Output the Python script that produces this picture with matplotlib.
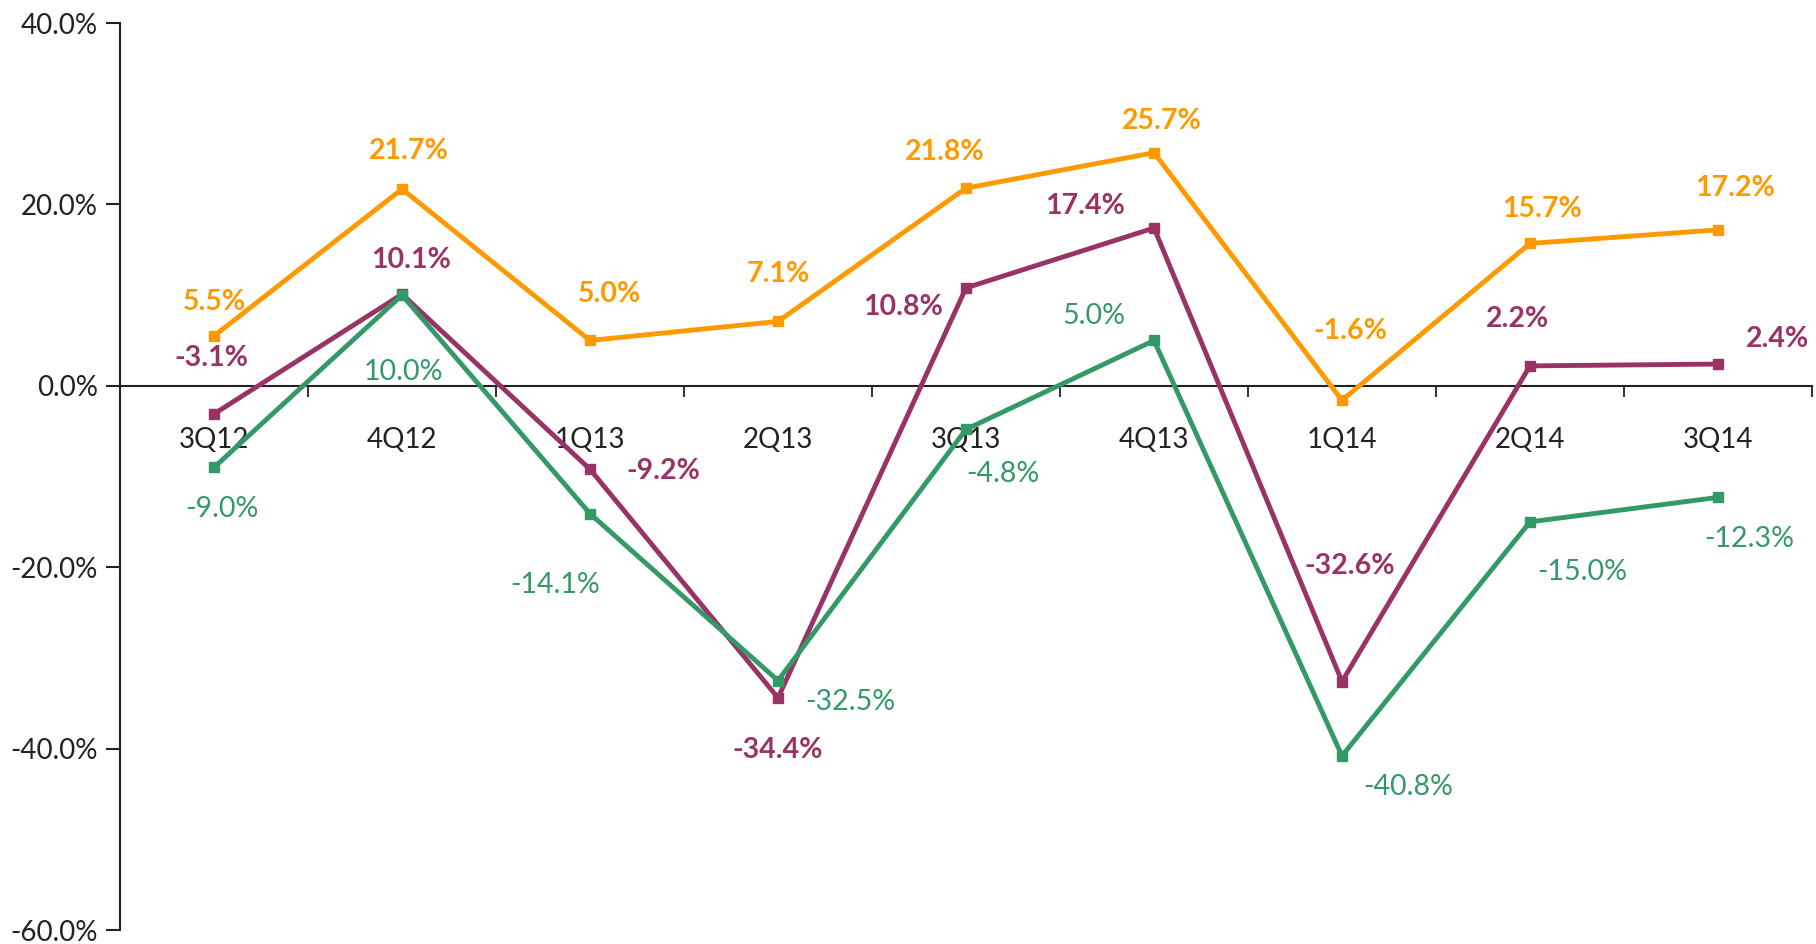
import matplotlib
matplotlib.use('Agg')
import matplotlib.pyplot as plt
from matplotlib.ticker import FuncFormatter, FixedLocator

plt.rcParams['font.family'] = ['Lato', 'DejaVu Sans']

# data
quarters = ['3Q12', '4Q12', '1Q13', '2Q13', '3Q13', '4Q13', '1Q14', '2Q14', '3Q14']
orange_vals = [5.5, 21.7, 5.0, 7.1, 21.8, 25.7, -1.6, 15.7, 17.2]
purple_vals = [-3.1, 10.1, -9.2, -34.4, 10.8, 17.4, -32.6, 2.2, 2.4]
green_vals = [-9.0, 10.0, -14.1, -32.5, -4.8, 5.0, -40.8, -15.0, -12.3]

# label offsets in pixels (layout only)
orange_off = [(0, 34), (7, 38), (19, 46), (0, 47), (-21, 36), (8, 32), (8, 69), (12, 34), (17, 42)]
purple_off = [(-3, 56), (9, 34), (73, -2), (0, -52), (-63, -19), (-69, 22), (8, 116), (-13, 47), (59, 25)]
green_off = [(8, -42), (1, -77), (-35, -71), (72, -21), (37, -45), (-60, 24), (66, -31), (52, -50), (31, -42)]

fig = plt.figure(figsize=(18.16, 9.44), dpi=100)
ax = fig.add_axes([0.0661, 0.0148, 0.9317, 0.9608])

x = list(range(len(quarters)))
series = [
    (orange_vals, '#FF9900', orange_off, 'bold'),
    (purple_vals, '#993366', purple_off, 'bold'),
    (green_vals, '#339966', green_off, 'normal'),
]

for vals, col, offs, wt in series:
    ax.plot(x, vals, color=col, lw=3.5, marker='s', ms=7.5, zorder=3)
    for xi, v, off in zip(x, vals, offs):
        ax.annotate('%.1f%%' % v, (xi, v), xytext=off, textcoords='offset pixels',
                    ha='center', va='center', color=col, fontsize=20.5, fontweight=wt, zorder=4)

ax.set_xlim(-0.5, len(quarters) - 0.5)
ax.set_ylim(-60, 40)
ax.set_yticks([-60, -40, -20, 0, 20, 40])
ax.yaxis.set_major_formatter(FuncFormatter(lambda v, p: '%.1f%%' % v))

ax.spines['top'].set_visible(False)
ax.spines['right'].set_visible(False)
ax.spines['bottom'].set_position(('data', 0))
ax.spines['left'].set_linewidth(1.5)
ax.spines['bottom'].set_linewidth(1.5)
ax.spines['left'].set_color('#222222')
ax.spines['bottom'].set_color('#222222')

ax.set_xticks(x)
ax.set_xticklabels(quarters)
ax.xaxis.set_minor_locator(FixedLocator([i + 0.5 for i in x]))
ax.tick_params(axis='x', which='major', length=0, pad=30, labelsize=20, labelcolor='#222222')
ax.tick_params(axis='x', which='minor', direction='out', length=8, width=1.3, color='#222222')
ax.tick_params(axis='y', direction='out', length=10, width=1.5, labelsize=20,
               labelcolor='#222222', color='#222222', pad=6)

fig.savefig('out.png', dpi=100)
